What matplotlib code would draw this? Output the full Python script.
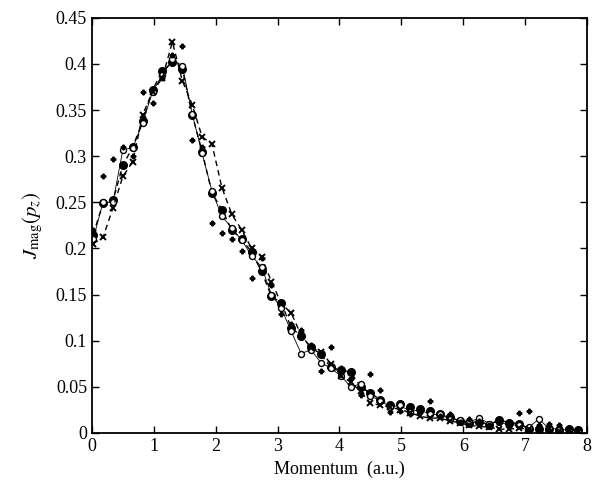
import matplotlib
matplotlib.use("Agg")
import matplotlib.pyplot as plt

plt.rcParams['font.family'] = ['Liberation Serif', 'DejaVu Serif']
plt.rcParams['mathtext.fontset'] = 'stix'

# common momentum grid (a.u.)
p = [0.02, 0.18, 0.34, 0.50, 0.66, 0.82, 0.98, 1.14, 1.30, 1.46,
     1.62, 1.78, 1.94, 2.10, 2.26, 2.42, 2.58, 2.74, 2.90, 3.06,
     3.22, 3.38, 3.54, 3.70, 3.86, 4.02, 4.18, 4.34, 4.50, 4.66,
     4.82, 4.98, 5.14, 5.30, 5.46, 5.62, 5.78, 5.94, 6.10, 6.26,
     6.42, 6.58, 6.74, 6.90, 7.06, 7.22, 7.38, 7.54, 7.70, 7.86]

j_filled = [0.215, 0.249, 0.252, 0.290, 0.310, 0.338, 0.372, 0.392, 0.402, 0.395,
            0.345, 0.305, 0.260, 0.242, 0.220, 0.210, 0.196, 0.175, 0.148, 0.141,
            0.114, 0.105, 0.093, 0.085, 0.071, 0.068, 0.066, 0.050, 0.043, 0.036,
            0.030, 0.031, 0.028, 0.026, 0.024, 0.020, 0.017, 0.013, 0.011, 0.012,
            0.009, 0.014, 0.011, 0.010, 0.004, 0.004, 0.004, 0.003, 0.004, 0.003]

j_open = [0.210, 0.250, 0.250, 0.307, 0.309, 0.336, 0.370, 0.388, 0.405, 0.398,
          0.346, 0.303, 0.262, 0.235, 0.222, 0.209, 0.192, 0.180, 0.150, 0.135,
          0.110, 0.086, 0.090, 0.076, 0.070, 0.062, 0.050, 0.053, 0.040, 0.035,
          0.028, 0.030, 0.023, 0.025, 0.020, 0.020, 0.015, 0.014, 0.012, 0.016,
          0.010, 0.012, 0.008, 0.009, 0.006, 0.015, 0.005, 0.004, 0.003, 0.003]

j_cross = [0.205, 0.212, 0.244, 0.278, 0.294, 0.345, 0.370, 0.385, 0.424, 0.382,
           0.356, 0.321, 0.313, 0.266, 0.237, 0.220, 0.200, 0.191, 0.164, 0.140,
           0.130, 0.106, 0.092, 0.088, 0.075, 0.062, 0.055, 0.045, 0.032, 0.030,
           0.028, 0.025, 0.022, 0.018, 0.016, 0.016, 0.013, 0.011, 0.008, 0.007,
           0.006, 0.004, 0.004, 0.005, 0.004, 0.003, 0.004, 0.002, 0.002, 0.001]

j_plus = [0.220, 0.279, 0.297, 0.310, 0.300, 0.370, 0.358, 0.385, 0.410, 0.419,
          0.317, 0.310, 0.227, 0.217, 0.210, 0.197, 0.168, 0.190, 0.160, 0.129,
          0.118, 0.112, 0.095, 0.067, 0.093, 0.070, 0.060, 0.041, 0.064, 0.046,
          0.023, 0.024, 0.020, 0.025, 0.034, 0.018, 0.020, 0.012, 0.015, 0.013,
          0.009, 0.012, 0.008, 0.022, 0.024, 0.008, 0.010, 0.008, 0.005, 0.004]

fig = plt.figure(figsize=(5.93, 4.82), dpi=100)
ax = fig.add_axes([0.155, 0.102, 0.835, 0.861])

ax.plot(p, j_filled, 'k--', lw=1.0, dashes=(4, 3), marker='o', ms=5.5)
ax.plot(p, j_open, 'k-', lw=0.6, marker='o', ms=4.3, mfc='white', mew=1.0)
ax.plot(p, j_cross, 'k--', lw=1.0, dashes=(4, 3), marker='x', ms=4.5, mew=1.4)
ax.plot(p, j_plus, 'k', ls='none', marker='P', ms=3.3)

ax.set_xlim(0, 8)
ax.set_ylim(0, 0.45)
ax.set_xticks(range(0, 9))
ax.set_yticks([0, 0.05, 0.1, 0.15, 0.2, 0.25, 0.3, 0.35, 0.4, 0.45])
ax.set_yticklabels(['0', '0.05', '0.1', '0.15', '0.2', '0.25', '0.3', '0.35', '0.4', '0.45'])
ax.tick_params(direction='in', top=True, right=True, labelsize=13, length=5, width=1)
for s in ax.spines.values():
    s.set_linewidth(1.3)

ax.set_xlabel('Momentum  (a.u.)', fontsize=13)
ax.set_ylabel(r'$J_{\rm mag}(p_z)$', fontsize=15, labelpad=8)

fig.savefig('out.png', dpi=100)
